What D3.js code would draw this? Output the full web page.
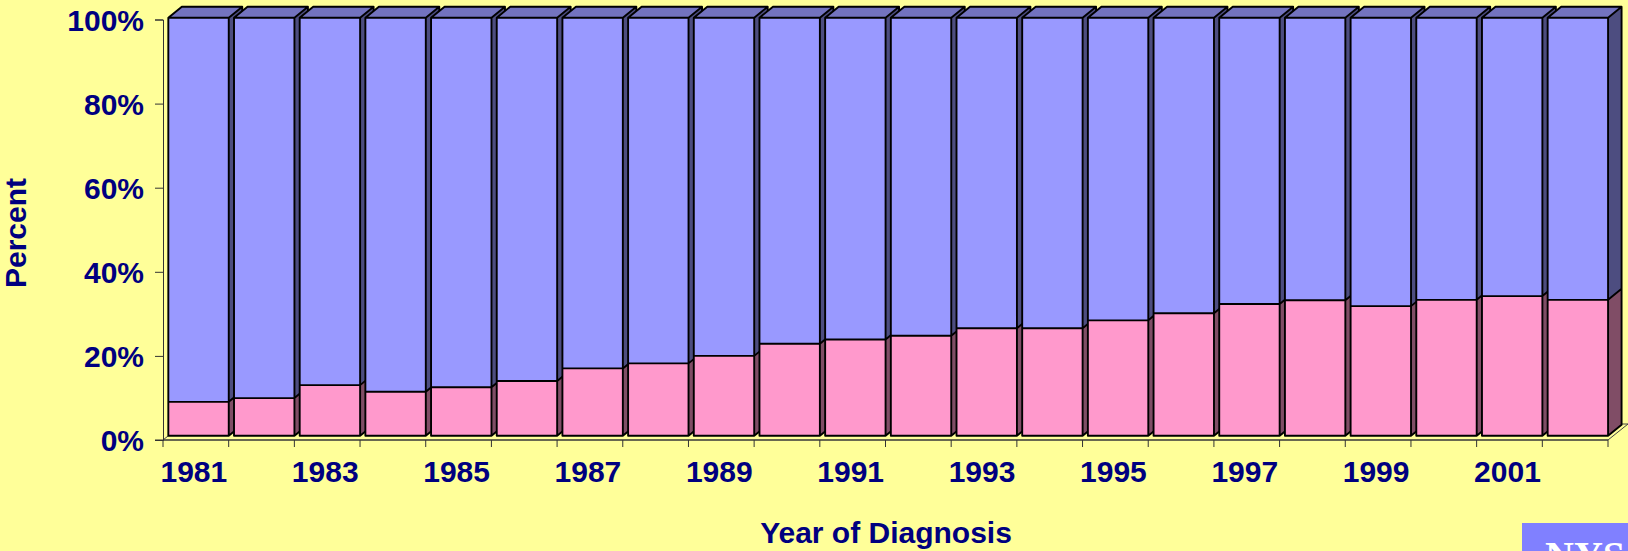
<!DOCTYPE html>
<html lang="en">
<head>
    <meta charset="UTF-8">
    <title>Percent by Year of Diagnosis</title>
    <style>
        body { margin: 0; background: #FFFF99; }
        .chart text {
            fill: #000080;
            font-family: "Liberation Sans", Arial, sans-serif;
            font-weight: bold;
        }
    </style>
</head>
<body>

<svg class="chart"></svg>

<script src="https://cdn.jsdelivr.net/npm/d3@7"></script>

<script>

    var years = [1981,1982,1983,1984,1985,1986,1987,1988,1989,1990,1991,
                 1992,1993,1994,1995,1996,1997,1998,1999,2000,2001,2002];
    // lower (pink) series, percent
    var lower = [8.1, 9.0, 12.1, 10.5, 11.6, 13.1, 16.1, 17.3, 19.1, 22.0, 23.0,
                 23.9, 25.7, 25.7, 27.6, 29.3, 31.5, 32.4, 31.0, 32.5, 33.4, 32.5];
    // upper (lavender) series, percent
    var upper = [91.9, 91.0, 87.9, 89.5, 88.4, 86.9, 83.9, 82.7, 80.9, 78.0, 77.0,
                 76.1, 74.3, 74.3, 72.4, 70.7, 68.5, 67.6, 69.0, 67.5, 66.6, 67.5];
    var yTicks = [0, 20, 40, 60, 80, 100];

    var width = 1628, height = 551;
    var depth = {x: 13.5, y: -11};   // 3d depth of a column
    var shift = {x: 2.7, y: -4.3};   // columns sit a little behind the axis plane

    var colors = {
        lower: {front: "#FF99CC", side: "#804D66", top: "#BF7399"},
        upper: {front: "#9999FF", side: "#4D4D80", top: "#7373BF"}
    };

    var svg = d3.select(".chart")
            .attr("width", width)
            .attr("height", height);

    svg.append("rect").attr("width", width).attr("height", height).attr("fill", "#FFFF99");

    var x = d3.scaleBand()
            .domain(years)
            .range([163, 1608])
            .paddingInner(0.08)
            .paddingOuter(0.04);

    var y = d3.scaleLinear().domain([0, 100]).range([440, 19.5]);
    var yBar = d3.scaleLinear().domain([0, 100]).range([440 + shift.y, 22 + shift.y]);

    var table = years.map(function (d, i) {
        return {year: d, lower: lower[i], upper: upper[i]};
    });
    var series = d3.stack().keys(["lower", "upper"])(table);

    // floor
    var x0 = x.range()[0], x1 = x.range()[1], fd = {x: 20, y: -16};
    svg.append("path")
            .attr("d", "M" + x0 + "," + y(0) + "L" + x1 + "," + y(0) + "L" + (x1 + fd.x) + "," + (y(0) + fd.y) +
                    "L" + (x0 + fd.x) + "," + (y(0) + fd.y) + "Z")
            .attr("fill", "#FFFF99")
            .attr("stroke", "#444")
            .attr("stroke-width", 1);

    // columns, drawn left to right so each front face covers its neighbour's side
    var cols = svg.append("g").selectAll("g")
            .data(table)
            .enter()
            .append("g");

    cols.each(function (d, i) {
        var g = d3.select(this);
        series.forEach(function (s) {
            var seg = s[i];
            var l = x(d.year) + shift.x, r = l + x.bandwidth();
            var b = yBar(seg[0]), t = yBar(seg[1]);
            var c = colors[s.key];
            g.append("path")
                    .attr("d", "M" + r + "," + t + "L" + (r + depth.x) + "," + (t + depth.y) +
                            "L" + (r + depth.x) + "," + (b + depth.y) + "L" + r + "," + b + "Z")
                    .attr("fill", c.side);
            g.append("path")
                    .attr("d", "M" + l + "," + t + "L" + (l + depth.x) + "," + (t + depth.y) +
                            "L" + (r + depth.x) + "," + (t + depth.y) + "L" + r + "," + t + "Z")
                    .attr("fill", c.top);
            g.append("rect")
                    .attr("x", l)
                    .attr("y", t)
                    .attr("width", r - l)
                    .attr("height", b - t)
                    .attr("fill", c.front);
        });
        // outlines
        var l = x(d.year) + shift.x, r = l + x.bandwidth();
        var b = yBar(0), m = yBar(d.lower), t = yBar(100);
        g.append("path")
                .attr("d", "M" + l + "," + b + "L" + l + "," + t + "L" + r + "," + t + "L" + r + "," + b + "Z" +
                        "M" + l + "," + m + "L" + r + "," + m + "L" + (r + depth.x) + "," + (m + depth.y) +
                        "M" + l + "," + t + "L" + (l + depth.x) + "," + (t + depth.y) + "L" + (r + depth.x) + "," + (t + depth.y) +
                        "L" + (r + depth.x) + "," + (b + depth.y) + "L" + r + "," + b +
                        "M" + r + "," + t + "L" + (r + depth.x) + "," + (t + depth.y))
                .attr("fill", "none")
                .attr("stroke", "#000")
                .attr("stroke-width", 1.9)
                .attr("stroke-linejoin", "round");
    });

    // y axis
    var yAxis = svg.append("g")
            .attr("transform", "translate(163,0)")
            .call(d3.axisLeft(y).tickValues(yTicks).tickSize(8).tickPadding(11)
                    .tickFormat(function (d) { return d + "%"; }));
    yAxis.select(".domain").attr("stroke", "#333");
    yAxis.selectAll(".tick line").attr("stroke", "#333");
    yAxis.selectAll("text").style("font-size", "30px").attr("dy", "0.36em");

    // x axis
    var xAxis = svg.append("g")
            .attr("transform", "translate(0," + y(0) + ")")
            .call(d3.axisBottom(x).tickSize(0).tickPadding(21)
                    .tickFormat(function (d, i) { return i % 2 === 0 ? d : ""; }));
    xAxis.select(".domain").remove();
    xAxis.selectAll("text").style("font-size", "30px").attr("dx", "-2");
    // category boundary ticks
    xAxis.selectAll(".boundary")
            .data(years.concat([null]))
            .enter()
            .append("line")
            .attr("x1", function (d, i) { return i < years.length ? x(d) - x.step() * x.paddingOuter() : x1; })
            .attr("x2", function (d, i) { return i < years.length ? x(d) - x.step() * x.paddingOuter() : x1; })
            .attr("y1", 0)
            .attr("y2", 7)
            .attr("stroke", "#333");
    xAxis.append("line").attr("x1", x0 - 8).attr("x2", x1).attr("stroke", "#333");

    // axis titles
    svg.append("text")
            .attr("transform", "translate(26,233) rotate(-90)")
            .attr("text-anchor", "middle")
            .style("font-size", "30px")
            .text("Percent");

    svg.append("text")
            .attr("x", 886)
            .attr("y", 543)
            .attr("text-anchor", "middle")
            .style("font-size", "30px")
            .text("Year of Diagnosis");

    // logo corner (cut off by the picture edge, as in the original)
    svg.append("rect")
            .attr("x", 1522).attr("y", 523).attr("width", 110).attr("height", 40)
            .attr("fill", "#8080FF");
    svg.append("text")
            .attr("x", 1545).attr("y", 569)
            .style("font-family", "'Liberation Serif', 'Times New Roman', serif")
            .style("font-weight", "bold")
            .style("font-size", "40px")
            .style("fill", "#ffffff")
            .text("NYS");

</script>

</body>
</html>
